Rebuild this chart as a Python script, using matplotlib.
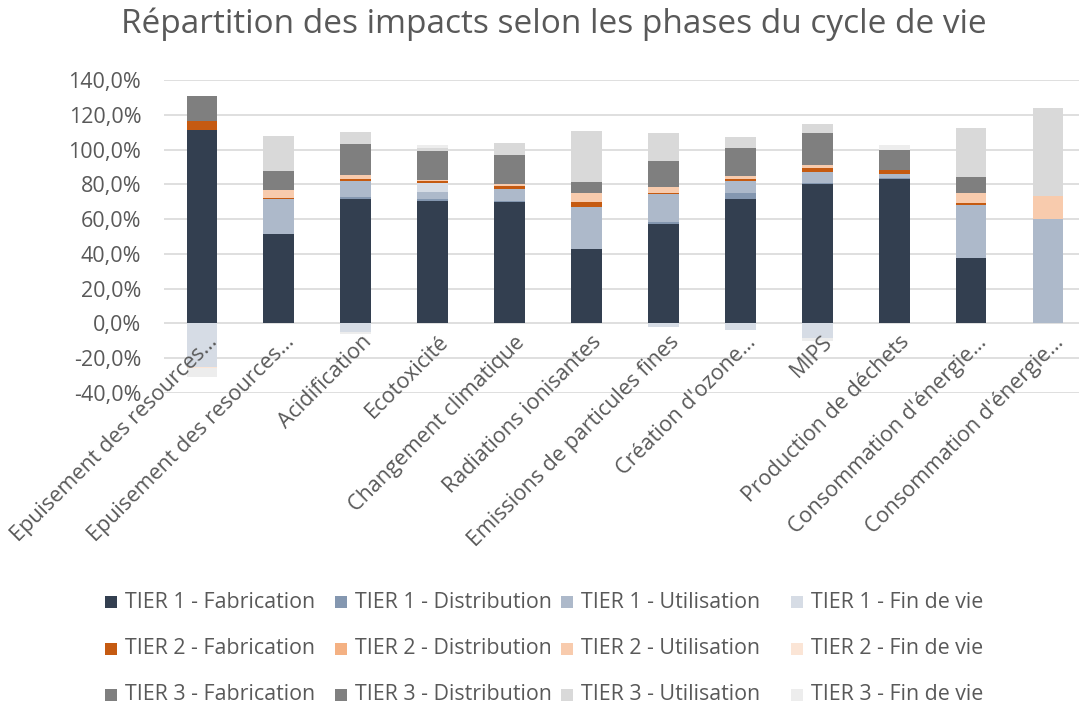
import matplotlib
matplotlib.use("Agg")
import matplotlib.pyplot as plt
from matplotlib.patches import Rectangle
import numpy as np

plt.rcParams['font.family'] = ['Open Sans', 'DejaVu Sans']

categories = ["Epuisement des resources…", "Epuisement des resources…", "Acidification",
              "Ecotoxicité", "Changement climatique", "Radiations ionisantes",
              "Emissions de particules fines", "Création d'ozone…", "MIPS",
              "Production de déchets", "Consommation d'énergie…", "Consommation d'énergie…"]

series_names = ["TIER 1 - Fabrication", "TIER 1 - Distribution", "TIER 1 - Utilisation", "TIER 1 - Fin de vie",
                "TIER 2 - Fabrication", "TIER 2 - Distribution", "TIER 2 - Utilisation", "TIER 2 - Fin de vie",
                "TIER 3 - Fabrication", "TIER 3 - Distribution", "TIER 3 - Utilisation", "TIER 3 - Fin de vie"]

t1_fab  = [111.1, 51.2, 71.3, 70.4, 70.0, 42.6, 57.4, 71.7, 80.3, 82.8, 37.5, 0.0]
t1_dist = [0.0, 0.4, 1.3, 1.0, 0.5, 0.3, 1.1, 3.4, 0.5, 0.8, 0.4, 0.0]
t1_util = [0.0, 19.7, 9.2, 4.4, 7.1, 24.0, 15.7, 7.1, 6.4, 2.1, 30.2, 60.0]
t1_fin  = [-25.2, 0.0, -5.2, 5.0, 0.0, 0.0, -2.3, -3.5, -8.4, 0.0, 0.0, 0.0]
t2_fab  = [5.5, 1.0, 1.1, 1.3, 1.5, 3.1, 1.1, 1.1, 2.3, 2.7, 1.3, 0.0]
t2_dist = [0.0, 0.0, 0.0, 0.0, 0.0, 0.0, 0.0, 0.0, 0.0, 0.0, 0.0, 0.0]
t2_util = [0.0, 4.2, 2.7, 0.5, 1.3, 5.2, 3.1, 1.5, 1.5, 0.0, 5.7, 13.2]
t2_fin  = [-0.6, 0.0, 0.0, 0.0, 0.0, 0.0, 0.0, 0.0, 0.0, 0.0, 0.0, 0.0]
t3_fab  = [14.0, 11.1, 17.6, 16.4, 16.3, 6.1, 15.3, 16.1, 18.6, 11.5, 9.0, 0.0]
t3_dist = [0.0, 0.0, 0.0, 0.0, 0.0, 0.0, 0.0, 0.0, 0.0, 0.0, 0.0, 0.0]
t3_util = [0.0, 20.1, 6.7, 2.0, 7.3, 29.6, 15.9, 6.1, 5.2, 0.0, 28.3, 50.7]
t3_fin  = [-4.8, 0.0, -0.9, 1.8, 0.0, 0.0, 0.0, 0.0, -1.5, 2.5, 0.0, 0.0]

series = [t1_fab, t1_dist, t1_util, t1_fin, t2_fab, t2_dist, t2_util, t2_fin,
          t3_fab, t3_dist, t3_util, t3_fin]
colors = ["#333F50", "#8497B0", "#ADB9CA", "#D6DCE5",
          "#C55A11", "#F4B183", "#F8CBAD", "#FBE5D6",
          "#7F7F7F", "#808080", "#D9D9D9", "#EDEDED"]

yticks = [-40, -20, 0, 20, 40, 60, 80, 100, 120, 140]
title = "Répartition des impacts selon les phases du cycle de vie"
text_col = "#595959"

W, H = 1079, 709
fig = plt.figure(figsize=(W / 100, H / 100), dpi=100)
left_px, right_px = 163.5, 1079
top_px, bot_px = 80, 393
ax = fig.add_axes([left_px / W, 1 - bot_px / H, (right_px - left_px) / W, (bot_px - top_px) / H])

x = np.arange(len(categories))
pos_bottom = np.zeros(len(categories))
neg_bottom = np.zeros(len(categories))
for vals, col in zip(series, colors):
    v = np.array(vals, dtype=float)
    bottom = np.where(v >= 0, pos_bottom, neg_bottom)
    ax.bar(x, v, width=0.4, bottom=bottom, color=col, zorder=3, linewidth=0)
    pos_bottom += np.where(v >= 0, v, 0)
    neg_bottom += np.where(v < 0, v, 0)

spacing = (1048 - 202) / 11
ax.set_xlim(-0.5, -0.5 + (right_px - left_px) / spacing)
ax.set_ylim(-40, 140)
ax.set_yticks(yticks)
ax.set_yticklabels([f"{t:.1f}%".replace('.', ',') for t in yticks], fontsize=15.5, color=text_col)
ax.tick_params(axis='y', length=0, pad=16)
ax.set_xticks([])
ax.grid(axis='y', color="#D9D9D9", linewidth=1.2, zorder=0)
for s in ax.spines.values():
    s.set_visible(False)

for i, c in enumerate(categories):
    ax.text(i + 0.16, -9, c, rotation=45, rotation_mode='anchor', ha='right', va='center',
            fontsize=15.5, color=text_col, zorder=4)

fig.text(554 / W, 1 - 24 / H, title, ha='center', va='center', fontsize=24, color=text_col)

# manual legend (4 columns x 3 rows)
col_x = [105, 335, 561, 791]
row_y = [602, 648.5, 695]
sq = 12
for k, (name, col) in enumerate(zip(series_names, colors)):
    r, cidx = divmod(k, 4)
    xp, yp = col_x[cidx], row_y[r]
    fig.patches.append(Rectangle((xp / W, 1 - (yp + sq / 2) / H), sq / W, sq / H,
                                 transform=fig.transFigure, facecolor=col, edgecolor='none'))
    fig.text((xp + sq + 8) / W, 1 - yp / H, name, ha='left', va='center',
             fontsize=15.4, color=text_col)

fig.savefig("out.png", dpi=100)
